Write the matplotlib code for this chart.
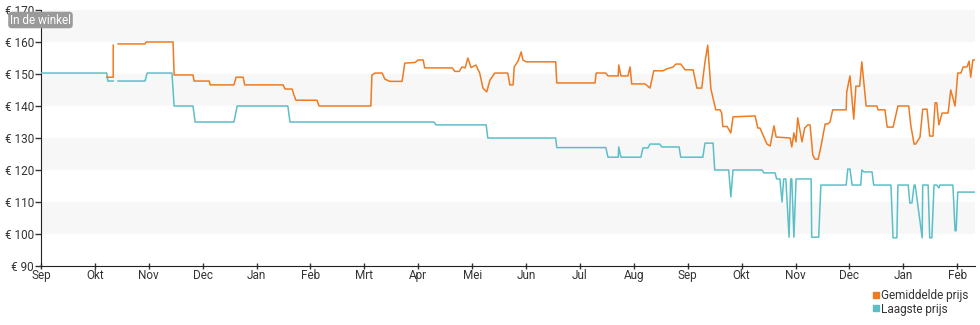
import matplotlib
matplotlib.use("Agg")
import matplotlib.pyplot as plt
from matplotlib.lines import Line2D
import numpy as np

plt.rcParams['font.family'] = ['Roboto', 'DejaVu Sans']

# tijd in maanden sinds begin (sep), prijs in euro; nan = geen data
month_labels = ["Sep", "Okt", "Nov", "Dec", "Jan", "Feb", "Mrt", "Apr", "Mei",
                "Jun", "Jul", "Aug", "Sep", "Okt", "Nov", "Dec", "Jan", "Feb"]

avg_t = [1.22, 1.34, 1.34, 1.36, 1.43, 1.93, 1.95, 2.45, 2.47, 2.82, 2.84, 3.12, 3.14, 3.58,
         3.62, 3.75, 3.78, 4.49, 4.53, 4.66, 4.69, 4.73, 5.12, 5.16, 6.12, 6.14, 6.20, 6.33,
         6.38, 6.47, 6.70, 6.75, 6.94, 7.00, 7.09, 7.12, 7.63, 7.68, 7.76, 7.81, 7.87, 7.92,
         7.98, 8.07, 8.14, 8.20, 8.27, 8.33, 8.42, 8.66, 8.70, 8.76, 8.78, 8.85, 8.91, 8.94,
         9.00, 9.55, 9.57, 10.28, 10.30, 10.48, 10.52, 10.71, 10.72, 10.76, 10.89, 10.93,
         10.96, 11.21, 11.30, 11.37, 11.54, 11.61, 11.73, 11.78, 11.87, 11.95, 12.10, 12.17,
         12.26, 12.32, 12.37, 12.43, 12.52, 12.60, 12.63, 12.65, 12.73, 12.80, 12.84, 13.25,
         13.30, 13.34, 13.47, 13.53, 13.60, 13.64, 13.90, 13.93, 13.97, 14.01, 14.04, 14.12,
         14.17, 14.23, 14.27, 14.32, 14.36, 14.42, 14.47, 14.55, 14.60, 14.64, 14.69, 14.94,
         14.95, 15.01, 15.08, 15.12, 15.19, 15.23, 15.31, 15.51, 15.53, 15.66, 15.70, 15.81,
         15.90, 16.10, 16.14, 16.20, 16.23, 16.31, 16.36, 16.44, 16.49, 16.55, 16.59, 16.62,
         16.66, 16.72, 16.83, 16.88, 16.96, 17.01, 17.07, 17.11, 17.18, 17.22, 17.25, 17.29,
         17.33]
avg_price = [149.0, 149.0, 159.0, np.nan, 159.4, 159.4, 160.0, 160.0, 149.7, 149.7, 147.8,
             147.8, 146.6, 146.6, 149.0, 149.0, 146.6, 146.6, 145.3, 145.3, 143.6, 141.8,
             141.8, 140.0, 140.0, 149.7, 150.3, 150.3, 148.4, 147.7, 147.7, 153.4, 153.6,
             154.4, 154.4, 151.9, 151.9, 150.8, 150.8, 152.2, 151.9, 155.0, 152.0, 152.8,
             150.3, 145.6, 144.4, 148.1, 150.3, 150.3, 146.6, 146.6, 152.2, 154.0, 156.9,
             154.4, 153.8, 153.8, 147.2, 147.2, 150.3, 150.3, 149.4, 149.4, 152.8, 149.4,
             149.4, 152.2, 146.9, 146.9, 145.6, 151.0, 151.0, 151.6, 152.2, 153.1, 153.1,
             151.3, 151.3, 145.6, 145.6, 153.8, 159.0, 145.3, 138.8, 138.8, 137.8, 133.6,
             133.6, 131.6, 136.6, 136.9, 133.1, 133.1, 128.1, 127.5, 133.8, 130.3, 130.0,
             127.2, 131.6, 128.8, 136.3, 128.8, 133.1, 134.1, 134.1, 124.7, 123.4, 123.4,
             127.2, 134.4, 134.4, 135.0, 138.8, 138.8, 144.4, 149.4, 135.9, 146.2, 146.2,
             153.8, 140.0, 140.0, 138.8, 138.8, 133.4, 133.4, 140.0, 140.0, 133.8, 128.1,
             128.1, 130.3, 139.0, 139.0, 130.6, 130.6, 141.0, 141.0, 134.1, 137.8, 137.8,
             145.0, 140.0, 150.3, 150.3, 152.2, 152.2, 154.0, 149.0, 154.4, 154.4]

low_t = [0.00, 1.22, 1.24, 1.34, 1.36, 1.43, 1.93, 1.97, 2.43, 2.47, 2.82, 2.86, 3.58, 3.64,
         4.58, 4.62, 7.29, 7.33, 8.26, 8.29, 9.55, 9.57, 10.48, 10.52, 10.71, 10.72, 10.76,
         11.13, 11.17, 11.26, 11.30, 11.48, 11.52, 11.84, 11.87, 12.28, 12.32, 12.47, 12.50,
         12.76, 12.80, 12.84, 13.38, 13.41, 13.62, 13.65, 13.71, 13.75, 13.78, 13.82, 13.88,
         13.91, 13.93, 13.97, 14.01, 14.29, 14.30, 14.43, 14.47, 14.94, 14.97, 15.01, 15.05,
         15.21, 15.23, 15.27, 15.42, 15.45, 15.77, 15.81, 15.88, 15.90, 16.09, 16.12, 16.16,
         16.20, 16.22, 16.35, 16.36, 16.46, 16.49, 16.53, 16.57, 16.62, 16.66, 16.68, 16.92,
         16.96, 16.98, 17.01, 17.33]
low_price = [150.3, 150.3, 147.8, 147.8, np.nan, 147.8, 147.8, 150.3, 150.3, 140.0, 140.0,
             135.0, 135.0, 140.0, 140.0, 135.0, 135.0, 134.1, 134.1, 130.0, 130.0, 127.0,
             127.0, 124.0, 124.0, 127.2, 124.0, 124.0, 126.9, 126.9, 128.1, 128.1, 127.2,
             127.2, 124.0, 124.0, 128.4, 128.4, 120.0, 120.0, 111.6, 120.0, 120.0, 119.1,
             119.1, 117.2, 117.2, 110.0, 117.2, 117.2, 99.0, 117.2, 117.2, 99.0, 117.2, 117.2,
             99.0, 99.0, 115.3, 115.3, 120.3, 120.3, 115.3, 115.3, 120.0, 119.4, 119.4, 115.3,
             115.3, 98.8, 98.8, 115.3, 115.3, 109.7, 109.7, 115.3, 115.3, 98.8, 115.3, 115.3,
             98.8, 98.8, 115.3, 115.3, 114.4, 115.3, 115.3, 101.0, 101.0, 113.1, 113.1]

orange = '#ee7b22'
cyan = '#5cbfc8'
text_col = '#333333'

fig = plt.figure(figsize=(9.8, 3.25), dpi=100)
ax = fig.add_axes([41 / 980, 1 - 266 / 325, 934 / 980, 256 / 325])

x_max = 17.33
ax.set_xlim(0, x_max)
ax.set_ylim(90, 170)

# lichtgrijze banden om de 10 euro
for lo in (100, 120, 140, 160):
    ax.axhspan(lo, lo + 10, color='#f7f7f7', lw=0, zorder=0)

ax.plot(low_t, low_price, color=cyan, lw=1.1, zorder=3)
ax.plot(avg_t, avg_price, color=orange, lw=1.1, zorder=4)

ax.set_yticks(np.arange(90, 171, 10))
ax.set_yticklabels([f"€ {v}" for v in range(90, 171, 10)])
ax.set_xticks(np.arange(len(month_labels)))
ax.set_xticklabels(month_labels)

for s in ('top', 'right'):
    ax.spines[s].set_visible(False)
ax.spines['left'].set_linestyle((0, (1, 1)))
ax.spines['left'].set_color('#222222')
ax.spines['bottom'].set_color('#222222')
ax.tick_params(axis='y', labelsize=8.5, colors=text_col, length=4, width=1, pad=1)
ax.tick_params(axis='x', labelsize=8.5, colors=text_col, length=5, width=1,
               direction='inout', pad=0)

# label linksboven, over de as heen
fig.text(10 / 980, 1 - 20 / 325, "In de winkel", fontsize=8.5, color='white',
         va='center', ha='left', zorder=10,
         bbox=dict(boxstyle='round,pad=0.15,rounding_size=0.3', fc='#9a9a9a', ec='none'))

handles = [Line2D([], [], marker='s', ls='none', color=orange, markersize=5),
           Line2D([], [], marker='s', ls='none', color=cyan, markersize=5)]
fig.legend(handles, ["Gemiddelde prijs", "Laagste prijs"], loc='lower right',
           bbox_to_anchor=(0.998, 0.0), frameon=False, fontsize=8.5, handlelength=0.6,
           handletextpad=0.1, labelspacing=0.05, borderpad=0.3, labelcolor=text_col)

fig.savefig("out.png", dpi=100)
